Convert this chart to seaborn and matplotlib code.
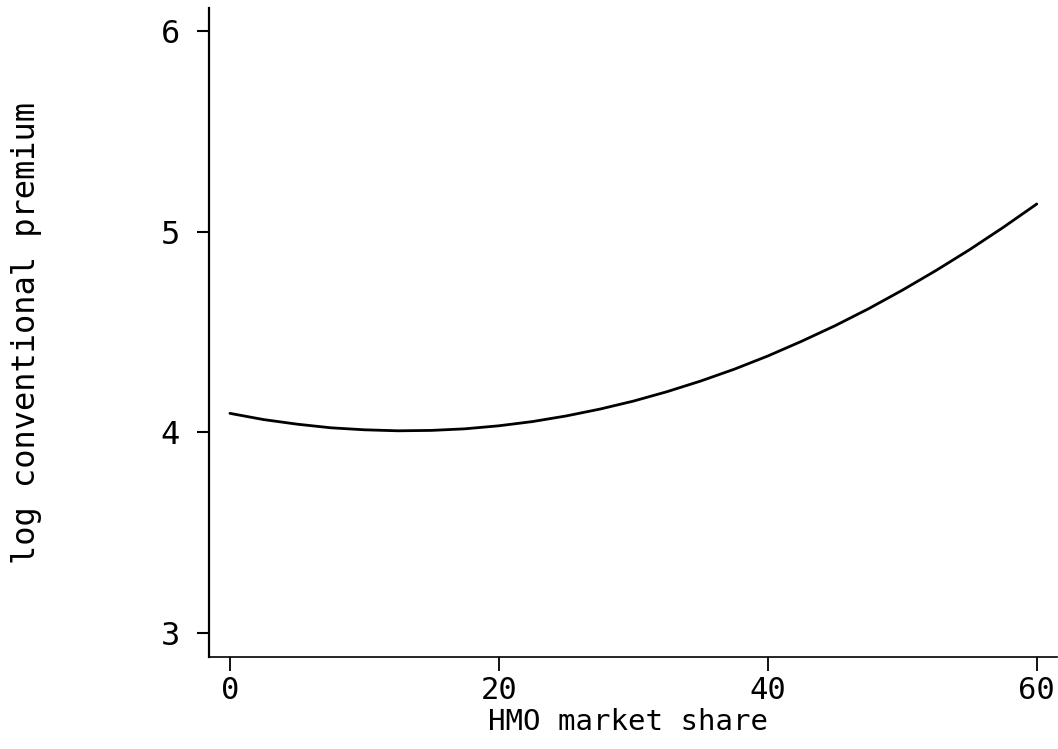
import numpy as np
import pandas as pd
import seaborn as sns
import matplotlib.pyplot as plt

# %% values
hmo_share = [0, 2.5, 5, 7.5, 10, 12.5, 15, 17.5, 20, 22.5, 25, 27.5, 30,
             32.5, 35, 37.5, 40, 42.5, 45, 47.5, 50, 52.5, 55, 57.5, 60]
log_premium = [4.095, 4.064, 4.041, 4.023, 4.013, 4.008, 4.010, 4.018, 4.033,
               4.054, 4.082, 4.116, 4.156, 4.203, 4.256, 4.315, 4.381, 4.454,
               4.532, 4.617, 4.709, 4.807, 4.911, 5.022, 5.139]
x_ticks = [0, 20, 40, 60]
y_ticks = [3, 4, 5, 6]

df = pd.DataFrame({'share': hmo_share, 'premium': log_premium})

# %% plot
sns.set_style('ticks')
plt.rcParams['font.family'] = ['DejaVu Sans Mono', 'DejaVu Sans']

fig = plt.figure(figsize=(10.58, 7.49), dpi=100)
ax = fig.add_axes([0.1975, 0.1228, 0.8015, 0.8662])
sns.lineplot(data=df, x='share', y='premium', color='black', linewidth=2.0, ax=ax)

ax.set_xlim(-1.56, 61.5)
ax.set_ylim(2.88, 6.115)
ax.set_xticks(x_ticks)
ax.set_yticks(y_ticks)
ax.tick_params(axis='x', length=10, width=1.3, labelsize=22, pad=4, colors='black')
ax.tick_params(axis='y', length=9, width=1.5, labelsize=23, pad=12, colors='black')
ax.spines['top'].set_visible(False)
ax.spines['right'].set_visible(False)
ax.spines['left'].set_linewidth(1.6)
ax.spines['bottom'].set_linewidth(1.2)
for s in ('left', 'bottom'):
    ax.spines[s].set_color('black')

ax.set_xlabel('HMO market share', fontsize=21, color='black', va='center')
ax.set_ylabel('log conventional premium', fontsize=23, color='black', va='center')
ax.xaxis.set_label_coords(0.494, -0.100)
ax.yaxis.set_label_coords(-0.215, 0.5)

fig.savefig('out.png', dpi=100)
